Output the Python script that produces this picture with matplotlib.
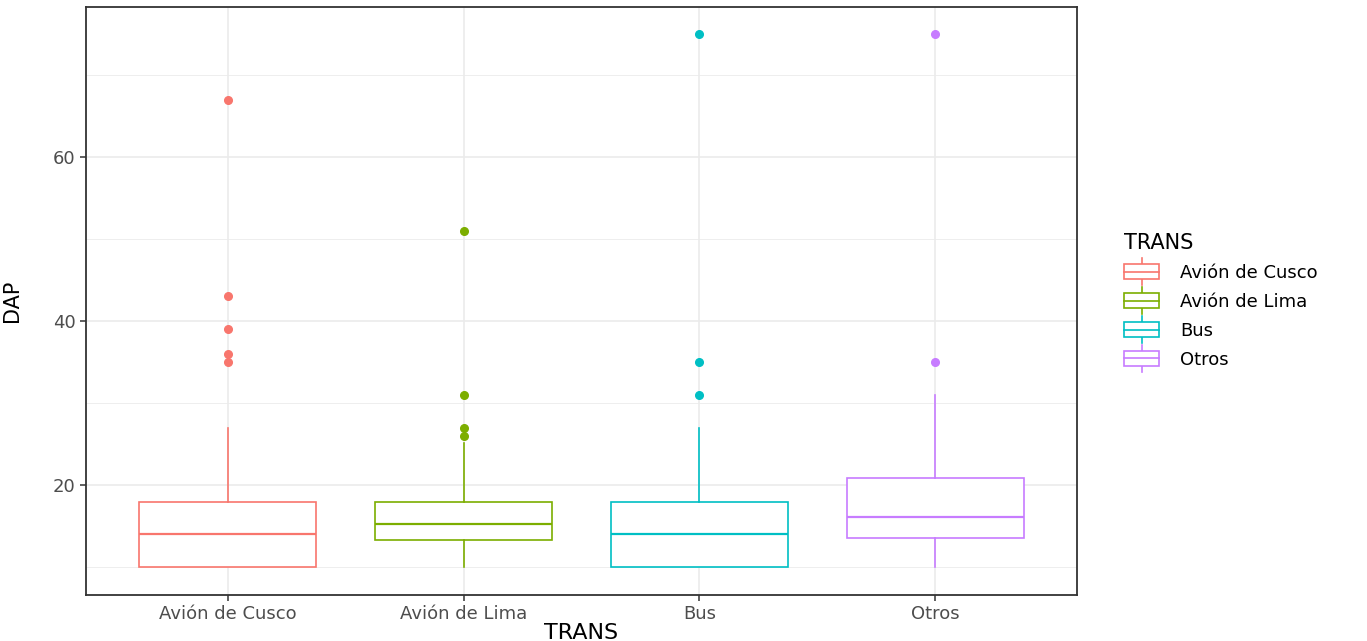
import matplotlib
matplotlib.use("Agg")
import matplotlib.pyplot as plt
from matplotlib.legend_handler import HandlerBase
from matplotlib.patches import Rectangle
from matplotlib.lines import Line2D

# datos
categorias = ["Avión de Cusco", "Avión de Lima", "Bus", "Otros"]
colores = ["#F8766D", "#7CAE00", "#00BFC4", "#C77CFF"]
q1 = [10, 13.3, 10, 13.6]
mediana = [14, 15.2, 14, 16.1]
q3 = [18, 18, 18, 20.9]
bigote_inf = [10, 10, 10, 10]
bigote_sup = [27, 25.1, 27, 31]
atipicos = [
    [67, 43, 39, 36, 35],
    [51, 31, 27, 26],
    [75, 35, 31],
    [75, 35],
]


class HandlerCaja(HandlerBase):
    def create_artists(self, legend, orig_handle, xdescent, ydescent,
                       width, height, fontsize, trans):
        c = orig_handle.get_color()
        cx = width / 2 - xdescent
        h = height * 1.0
        y0 = -ydescent + (height - h) / 2
        arts = [
            Line2D([cx, cx], [y0 - 0.4 * h, y0 + 1.4 * h], color=c, lw=1.2),
            Rectangle((-xdescent, y0), width, h, facecolor="white",
                      edgecolor=c, lw=1.2),
            Line2D([-xdescent, -xdescent + width], [y0 + h / 2, y0 + h / 2],
                   color=c, lw=1.2),
        ]
        for a in arts:
            a.set_transform(trans)
        return arts


fig = plt.figure(figsize=(13.67, 6.41), dpi=100)
ax = fig.add_axes([86 / 1367, 1 - 595 / 641, (1077 - 86) / 1367, (595 - 7) / 641])

# rejilla estilo theme_bw
for y in [10, 30, 50, 70]:
    ax.axhline(y, color="#ebebeb", lw=0.6, zorder=0)
for y in [20, 40, 60]:
    ax.axhline(y, color="#ebebeb", lw=1.2, zorder=0)
for x in range(1, len(categorias) + 1):
    ax.axvline(x, color="#ebebeb", lw=1.2, zorder=0)

for i, cat in enumerate(categorias):
    stats = [{
        "q1": q1[i], "med": mediana[i], "q3": q3[i],
        "whislo": bigote_inf[i], "whishi": bigote_sup[i],
        "fliers": atipicos[i], "label": cat,
    }]
    c = colores[i]
    ax.bxp(stats, positions=[i + 1], widths=0.75, patch_artist=True,
           showcaps=False,
           boxprops=dict(facecolor="white", edgecolor=c, lw=1.2),
           medianprops=dict(color=c, lw=1.6),
           whiskerprops=dict(color=c, lw=1.2),
           flierprops=dict(marker="o", markerfacecolor=c, markeredgecolor=c,
                           markersize=5.5),
           zorder=2)

ax.set_xlim(0.4, 4.6)
ax.set_ylim(6.6, 78.3)
ax.set_xticks(range(1, 5))
ax.set_xticklabels(categorias)
ax.set_yticks([20, 40, 60])
ax.tick_params(colors="#333333", labelcolor="#4d4d4d", labelsize=13,
               length=4, width=1.1)
for s in ax.spines.values():
    s.set_color("#333333")
    s.set_linewidth(1.3)
ax.set_xlabel("TRANS", fontsize=16, labelpad=0)
ax.set_ylabel("DAP", fontsize=15, labelpad=22)

handles = [Line2D([], [], color=c) for c in colores]
ax.legend(handles, categorias, title="TRANS", loc="center left",
          bbox_to_anchor=(1.031, 0.5), frameon=False, fontsize=13,
          title_fontsize=15, handler_map={Line2D: HandlerCaja()},
          handlelength=1.95, handleheight=0.9, labelspacing=0.6,
          handletextpad=1.15, alignment="left")

fig.savefig("out.png", dpi=100)
